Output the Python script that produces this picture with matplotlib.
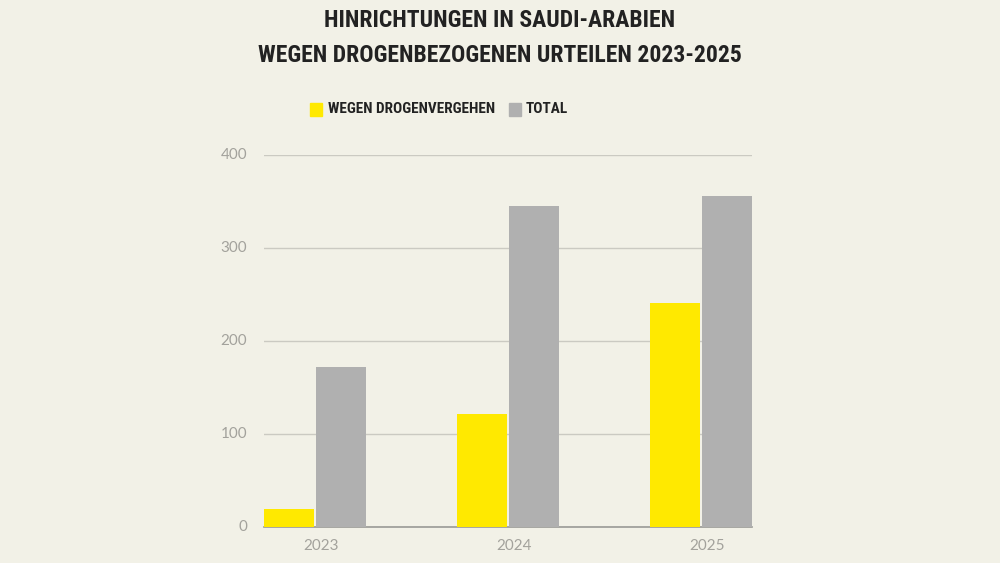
import numpy as np
import matplotlib.pyplot as plt

years = ['2023', '2024', '2025']
drug = [19, 122, 241]
total = [172, 345, 356]
yticks = [0, 100, 200, 300, 400]

title = ['HINRICHTUNGEN IN SAUDI-ARABIEN', 'WEGEN DROGENBEZOGENEN URTEILEN 2023-2025']
labels = ['WEGEN DROGENVERGEHEN', 'TOTAL']

bg = '#f2f1e7'
yellow = '#ffe900'
grey = '#b0b0b0'
tick_col = '#a3a29c'
cond = ['Roboto Condensed', 'DejaVu Sans']
H = 563

fig = plt.figure(figsize=(10, 5.63), dpi=100, facecolor=bg)
ax = fig.add_axes([0.264, 0.064, 0.488, 0.6607])
ax.set_facecolor(bg)

x = np.arange(len(years))
w = 0.258
ax.bar(x - w / 2 - 0.005, drug, w, color=yellow, zorder=3)
ax.bar(x + w / 2 + 0.005, total, w, color=grey, zorder=3)

ax.set_xlim(-0.265, 2.263)
ax.set_ylim(0, 400)
ax.set_yticks(yticks)
ax.set_yticklabels([str(v) for v in yticks], color=tick_col, fontsize=11,
                   family='Lato', va='center')
ax.tick_params(axis='y', length=0, pad=12)
ax.set_xticks(x + 0.03)
ax.set_xticklabels(years, color=tick_col, fontsize=11, family='Lato')
ax.tick_params(axis='x', length=0, pad=9)
ax.yaxis.grid(True, color='#cbcac2', lw=1, zorder=0)
for s in ['top', 'right', 'left']:
    ax.spines[s].set_visible(False)
ax.spines['bottom'].set_color('#9a9a96')
ax.spines['bottom'].set_linewidth(1.2)

# title, two lines
for line, ypx in zip(title, [18, 52.5]):
    fig.text(0.5, 1 - ypx / H, line, ha='center', va='center_baseline', fontsize=17,
             fontweight='bold', family=cond, color='#222222')

# legend
fig.patches.append(plt.Rectangle((0.31, 1 - 116 / H), 0.012, 13 / H, transform=fig.transFigure,
                                 color=yellow))
fig.text(0.328, 1 - 109 / H, labels[0], va='center', fontsize=11, fontweight='bold',
         family=cond, color='#222222')
fig.patches.append(plt.Rectangle((0.509, 1 - 116 / H), 0.012, 13 / H, transform=fig.transFigure,
                                 color=grey))
fig.text(0.526, 1 - 109 / H, labels[1], va='center', fontsize=11, fontweight='bold',
         family=cond, color='#222222')

fig.savefig('out.png', dpi=100, facecolor=bg)
